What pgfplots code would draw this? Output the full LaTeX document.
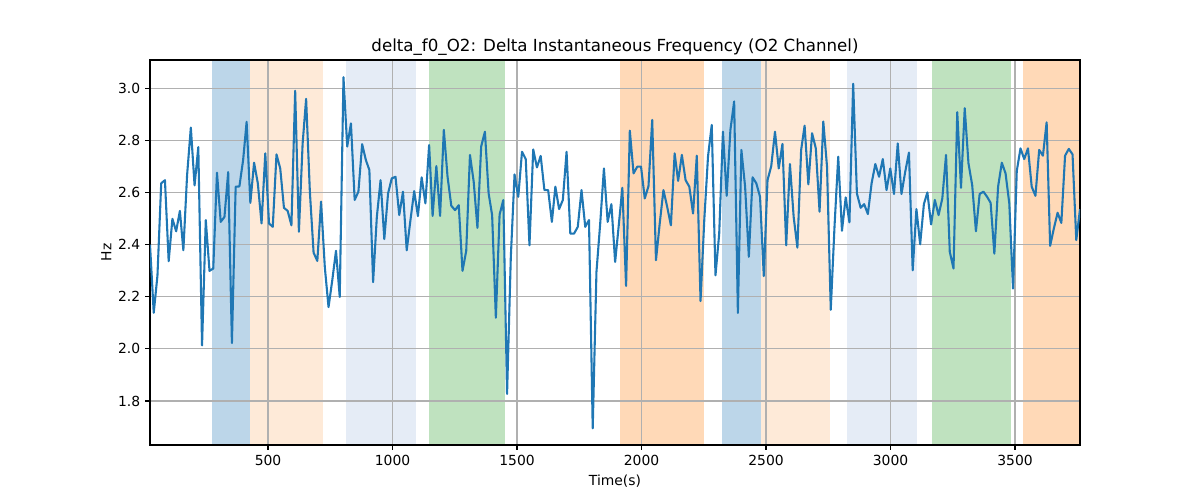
\documentclass[border=0pt]{standalone}
\usepackage{fontspec}
\setmainfont{DejaVu Sans}
\usepackage{pgfplots}
\pgfplotsset{compat=1.18}
\definecolor{tabblue}{RGB}{31,119,180}
\definecolor{spanblue}{RGB}{188,214,233}
\definecolor{spanpeach}{RGB}{254,234,216}
\definecolor{spanlight}{RGB}{229,236,246}
\definecolor{spangreen}{RGB}{191,226,191}
\definecolor{spanorange}{RGB}{255,217,183}
\definecolor{gridgray}{RGB}{176,176,176}
\begin{document}
\begin{tikzpicture}
\path (-108pt,-39.6pt) rectangle (756pt,320.4pt);
\begin{axis}[
  at={(0pt,0pt)}, anchor=south west,
  scale only axis, width=669.6pt, height=277.2pt,
  set layers,
  xmin=26, xmax=3761, ymin=1.631, ymax=3.108,
  xtick={500,1000,1500,2000,2500,3000,3500},
  ytick={1.8,2.0,2.2,2.4,2.6,2.8,3.0},
  xticklabel style={/pgf/number format/.cd, set thousands separator={}},
  yticklabel style={/pgf/number format/.cd, fixed, fixed zerofill, precision=1},
  /pgf/number format/assume math mode=true,
  tick align=outside, xtick pos=bottom, ytick pos=left,
  major tick length=3.5pt,
  tick style={black, line width=0.8pt},
  axis line style={black, line width=0.8pt},
  grid=major, major grid style={gridgray, line width=0.8pt},
  ticklabel style={font=\fontsize{10}{12}\selectfont},
  title={delta\_f0\_O2: Delta Instantaneous Frequency (O2 Channel)},
  title style={font=\fontsize{12}{14}\selectfont, at={(0.5,1)}, anchor=south, yshift=-6pt},
  xlabel={Time(s)}, ylabel={Hz},
  label style={font=\fontsize{10}{12}\selectfont},
  xlabel style={yshift=0pt},
  ylabel style={yshift=-2pt},
]
\addplot[fill=spanblue, draw=none, on layer=axis background] coordinates {(275,1.631) (429,1.631) (429,3.108) (275,3.108)} -- cycle;
\addplot[fill=spanpeach, draw=none, on layer=axis background] coordinates {(429,1.631) (720,1.631) (720,3.108) (429,3.108)} -- cycle;
\addplot[fill=spanlight, draw=none, on layer=axis background] coordinates {(813,1.631) (1093,1.631) (1093,3.108) (813,3.108)} -- cycle;
\addplot[fill=spangreen, draw=none, on layer=axis background] coordinates {(1147,1.631) (1452,1.631) (1452,3.108) (1147,3.108)} -- cycle;
\addplot[fill=spanorange, draw=none, on layer=axis background] coordinates {(1914,1.631) (2250,1.631) (2250,3.108) (1914,3.108)} -- cycle;
\addplot[fill=spanblue, draw=none, on layer=axis background] coordinates {(2323,1.631) (2479,1.631) (2479,3.108) (2323,3.108)} -- cycle;
\addplot[fill=spanpeach, draw=none, on layer=axis background] coordinates {(2479,1.631) (2756,1.631) (2756,3.108) (2479,3.108)} -- cycle;
\addplot[fill=spanlight, draw=none, on layer=axis background] coordinates {(2825,1.631) (3105,1.631) (3105,3.108) (2825,3.108)} -- cycle;
\addplot[fill=spangreen, draw=none, on layer=axis background] coordinates {(3167,1.631) (3483,1.631) (3483,3.108) (3167,3.108)} -- cycle;
\addplot[fill=spanorange, draw=none, on layer=axis background] coordinates {(3532,1.631) (3761,1.631) (3761,3.108) (3532,3.108)} -- cycle;
\addplot[tabblue, line width=1.5pt, line join=round, mark=none] coordinates {
(26,2.400) (41,2.138) (56,2.282) (71,2.635) (86,2.647) (101,2.336) (116,2.499) (131,2.451) (146,2.529) (160,2.378)
(175,2.667) (190,2.849) (205,2.627) (220,2.774) (235,2.013) (250,2.494) (265,2.299) (280,2.308) (295,2.676) (310,2.487)
(325,2.506) (340,2.678) (355,2.022) (370,2.622) (385,2.623) (400,2.724) (414,2.871) (429,2.560) (444,2.714) (459,2.635)
(474,2.481) (489,2.750) (504,2.481) (519,2.468) (534,2.746) (549,2.692) (564,2.541) (579,2.529) (594,2.474) (609,2.990)
(624,2.449) (639,2.788) (653,2.959) (668,2.603) (683,2.369) (698,2.337) (713,2.565) (728,2.314) (743,2.160) (758,2.263)
(773,2.376) (788,2.199) (803,3.042) (818,2.776) (833,2.865) (848,2.571) (863,2.603) (878,2.785) (893,2.724) (907,2.686)
(922,2.256) (937,2.506) (952,2.647) (967,2.421) (982,2.596) (997,2.654) (1012,2.660) (1027,2.513) (1042,2.603) (1057,2.378)
(1072,2.494) (1087,2.605) (1102,2.509) (1117,2.658) (1132,2.558) (1147,2.782) (1161,2.510) (1176,2.701) (1191,2.510) (1206,2.840)
(1221,2.660) (1236,2.549) (1251,2.532) (1266,2.551) (1281,2.299) (1296,2.376) (1311,2.744) (1326,2.641) (1341,2.464) (1356,2.776)
(1371,2.833) (1386,2.596) (1400,2.513) (1415,2.119) (1430,2.515) (1445,2.571) (1460,1.827) (1475,2.350) (1490,2.669) (1505,2.583)
(1520,2.756) (1535,2.728) (1550,2.397) (1565,2.765) (1580,2.696) (1595,2.740) (1610,2.609) (1625,2.609) (1640,2.487) (1654,2.622)
(1669,2.536) (1684,2.571) (1699,2.756) (1714,2.442) (1729,2.442) (1744,2.468) (1759,2.609) (1774,2.468) (1789,2.494) (1804,1.695)
(1819,2.295) (1834,2.480) (1849,2.692) (1864,2.487) (1879,2.555) (1894,2.333) (1908,2.468) (1923,2.618) (1938,2.241) (1953,2.837)
(1968,2.673) (1983,2.699) (1998,2.699) (2013,2.577) (2028,2.624) (2043,2.878) (2058,2.340) (2073,2.480) (2088,2.609) (2103,2.545)
(2118,2.474) (2133,2.750) (2147,2.644) (2162,2.744) (2177,2.647) (2192,2.622) (2207,2.519) (2222,2.741) (2237,2.183) (2252,2.494)
(2267,2.737) (2282,2.859) (2297,2.282) (2312,2.442) (2327,2.833) (2342,2.587) (2357,2.840) (2372,2.949) (2387,2.138) (2401,2.763)
(2416,2.622) (2431,2.353) (2446,2.658) (2461,2.635) (2476,2.583) (2491,2.279) (2506,2.647) (2521,2.701) (2536,2.833) (2551,2.692)
(2566,2.786) (2581,2.397) (2596,2.709) (2611,2.506) (2626,2.388) (2641,2.763) (2655,2.856) (2670,2.631) (2685,2.827) (2700,2.769)
(2715,2.526) (2730,2.872) (2745,2.699) (2760,2.150) (2775,2.468) (2790,2.737) (2805,2.453) (2820,2.581) (2835,2.485) (2850,3.017)
(2865,2.596) (2880,2.541) (2894,2.555) (2909,2.517) (2924,2.635) (2939,2.709) (2954,2.660) (2969,2.728) (2984,2.609) (2999,2.692)
(3014,2.594) (3029,2.788) (3044,2.594) (3059,2.679) (3074,2.753) (3089,2.301) (3104,2.536) (3119,2.401) (3134,2.555) (3148,2.600)
(3163,2.477) (3178,2.571) (3193,2.513) (3208,2.577) (3223,2.744) (3238,2.372) (3253,2.308) (3268,2.908) (3283,2.618) (3298,2.923)
(3313,2.712) (3328,2.628) (3343,2.451) (3358,2.594) (3373,2.603) (3388,2.583) (3402,2.560) (3417,2.365) (3432,2.622) (3447,2.714)
(3462,2.673) (3477,2.558) (3492,2.231) (3507,2.682) (3522,2.769) (3537,2.728) (3552,2.769) (3567,2.622) (3582,2.587) (3597,2.763)
(3612,2.741) (3627,2.869) (3641,2.395) (3656,2.462) (3671,2.522) (3686,2.483) (3701,2.741) (3716,2.767) (3731,2.746) (3746,2.417)
(3761,2.536)
};
\end{axis}
\end{tikzpicture}
\end{document}
